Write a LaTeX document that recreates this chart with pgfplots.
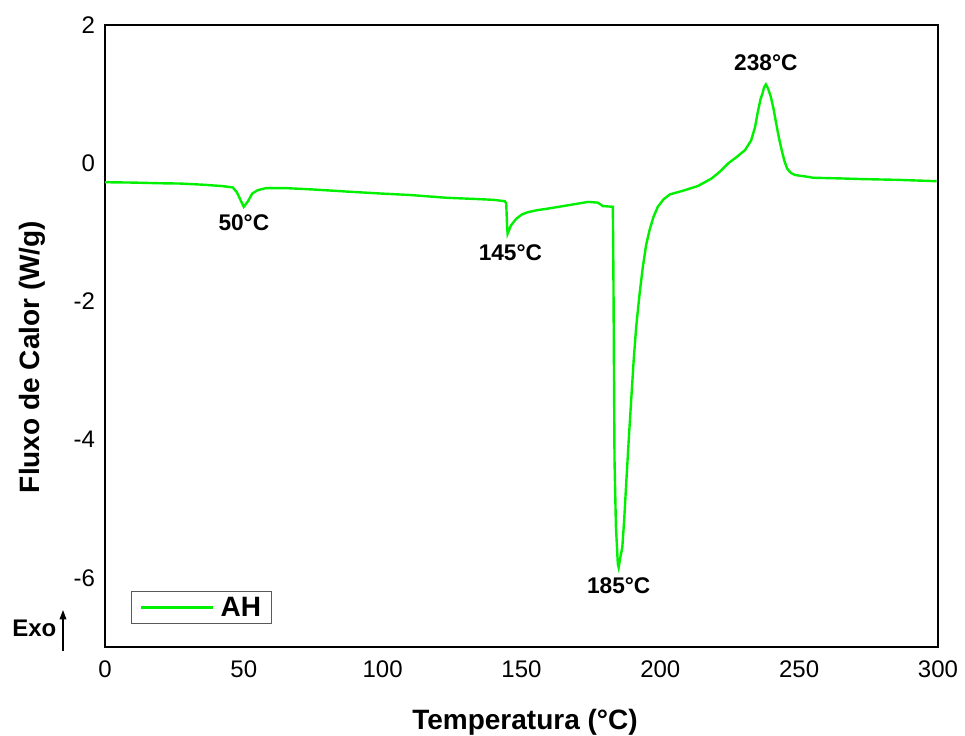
\documentclass[border=0pt]{standalone}
\usepackage{fontspec}
\setmainfont{Liberation Sans}
\usepackage{pgfplots}
\pgfplotsset{compat=1.18}
\usetikzlibrary{arrows.meta}

\definecolor{dscgreen}{RGB}{0,240,0}

\begin{document}
\begin{tikzpicture}
\useasboundingbox (-78.75pt,-66.75pt) rectangle (645pt,485.25pt);
\begin{axis}[
  at={(0,0)}, anchor=south west,
  scale only axis,
  width=624.75pt, height=466.5pt,
  xmin=0, xmax=300, ymin=-7, ymax=2,
  xtick={0,50,...,300},
  ytick={-6,-4,-2,0,2},
  major tick length=0pt,
  axis line style={line width=2.1pt},
  /pgf/number format/assume math mode=true,
  ticklabel style={font=\fontsize{18}{20}\selectfont},
  yticklabel style={xshift=-4pt},
  xticklabel style={yshift=-7pt},
  legend style={at={(0.0312,0.037)}, anchor=south west,
    draw=black!65, line width=0.9pt, inner xsep=6pt, inner ysep=2pt,
    font=\fontsize{21}{24}\selectfont\bfseries,
    /tikz/every even column/.append style={column sep=0pt}},
  legend image code/.code={\draw[#1, line width=1.8pt] (0pt,0pt) -- (54pt,0pt);},
  legend cell align=left,
  clip=false,
]
\addplot[dscgreen, line width=1.8pt] coordinates {
(0,-0.275) (10,-0.28) (20,-0.29) (27,-0.294) (35,-0.31) (42,-0.33) (46,-0.35)
(47.5,-0.42) (49,-0.55) (50,-0.63) (51.5,-0.55) (53,-0.44) (55,-0.39) (58,-0.36)
(65,-0.36) (75,-0.38) (87,-0.41) (100,-0.44) (110,-0.46) (123,-0.50) (135,-0.52)
(140,-0.53) (144,-0.55) (144.5,-0.58) (144.8,-0.9) (145,-1.02) (146.2,-0.90)
(148.2,-0.80) (150.2,-0.74) (152.2,-0.71) (155.5,-0.68) (159,-0.66) (165,-0.62)
(171,-0.58) (174,-0.56) (177.5,-0.57) (179.3,-0.62) (182.9,-0.63) (183.1,-1.59)
(183.5,-4.30) (184.0,-5.25) (184.7,-5.80) (185,-5.85) (185.6,-5.70) (186.3,-5.56)
(187.0,-5.15) (187.7,-4.64) (188.7,-3.95) (189.5,-3.43) (190.4,-2.85) (191.3,-2.37)
(192.5,-1.90) (193.7,-1.50) (194.9,-1.18) (196.1,-0.97) (197.5,-0.78) (199.1,-0.63)
(201.2,-0.52) (203.5,-0.45) (208,-0.40) (213.5,-0.33) (218.5,-0.22) (221.5,-0.12)
(224.5,0.0) (227.5,0.09) (230.5,0.19) (232.7,0.33) (234.1,0.52) (235,0.72)
(236.1,0.93) (236.8,1.01) (237.4,1.10) (238,1.14) (238.8,1.08) (239.8,0.96)
(240.8,0.78) (241.7,0.58) (242.7,0.37) (243.7,0.19) (244.7,0.03) (245.7,-0.08)
(247,-0.14) (248.5,-0.17) (252,-0.19) (255,-0.21) (265,-0.22) (273,-0.23)
(285,-0.24) (299.5,-0.26)
};
\addlegendentry{\hspace{3pt}AH}

\begin{scope}[every node/.style={font=\fontsize{17}{20}\selectfont\bfseries}]
\node at (axis cs:50,-0.86) {50°C};
\node at (axis cs:146,-1.29) {145°C};
\node at (axis cs:185,-6.12) {185°C};
\node at (axis cs:238,1.46) {238°C};
\end{scope}
\end{axis}

\node[font=\fontsize{21}{24}\selectfont\bfseries] at (315pt,-56.25pt) {Temperatura (°C)};
\node[font=\fontsize{21}{24}\selectfont\bfseries, rotate=90] at (-54.75pt,217.5pt) {Fluxo de Calor (W/g)};
\node[font=\fontsize{18}{20}\selectfont\bfseries, anchor=east] at (-33pt,14pt) {Exo};
\draw[line width=0.9pt, -{Triangle[length=7pt,width=5pt]}] (-31.5pt,-3pt) -- (-31.5pt,27.75pt);
\end{tikzpicture}
\end{document}
